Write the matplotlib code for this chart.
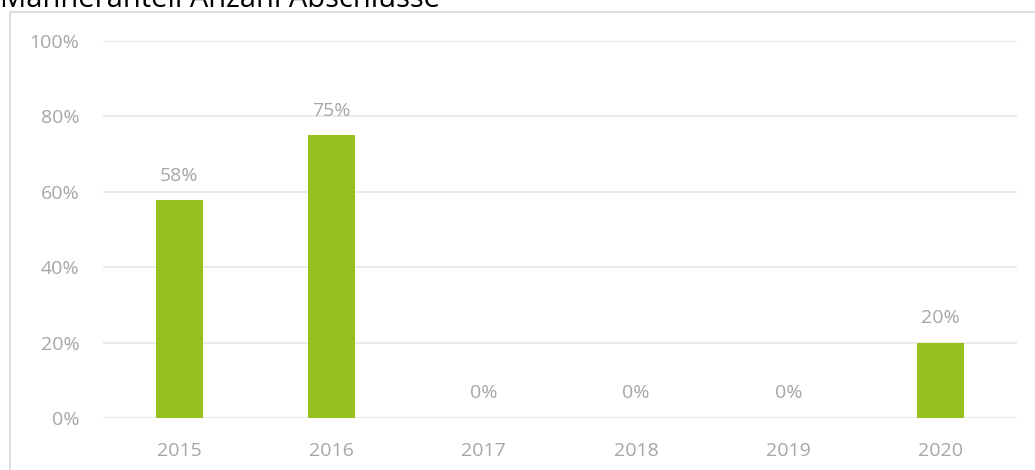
import matplotlib.pyplot as plt
from matplotlib.patches import Rectangle
from matplotlib.ticker import PercentFormatter

# Daten
years = ["2015", "2016", "2017", "2018", "2019", "2020"]
shares = [0.577, 0.75, 0.0, 0.0, 0.0, 0.20]
labels = ["58%", "75%", "0%", "0%", "0%", "20%"]

title = "Männeranteil Anzahl Abschlüsse"
green = "#95c11f"
grey = "#a6a6a6"
grid_col = "#e8e8e8"

plt.rcParams['font.family'] = ['Open Sans', 'DejaVu Sans']

fig = plt.figure(figsize=(10.35, 4.7), dpi=100)
ax = fig.add_axes([103 / 1035, 52 / 470, 914 / 1035, 377 / 470])

x = range(len(years))
ax.bar(x, shares, width=0.31, color=green, zorder=3)

for xi, v, lab in zip(x, shares, labels):
    ax.text(xi, v + 0.065, lab, ha="center", va="center", fontsize=14, color=grey)

ax.set_xlim(-0.5, len(years) - 0.5)
ax.set_ylim(0, 1)
ax.set_yticks([0, 0.2, 0.4, 0.6, 0.8, 1.0])
ax.yaxis.set_major_formatter(PercentFormatter(1.0, decimals=0))
ax.set_xticks(list(x))
ax.set_xticklabels(years)
ax.tick_params(axis="both", length=0, labelsize=14, colors=grey)
ax.tick_params(axis="y", pad=17)
ax.tick_params(axis="x", pad=17)
ax.grid(axis="y", color=grid_col, linewidth=1.3, zorder=0)
for s in ax.spines.values():
    s.set_visible(False)

# Rahmen um das Diagramm (rechts und unten abgeschnitten)
fig.patches.append(Rectangle((10 / 1035, -0.1), 1.2, (458 / 470) + 0.1,
                             transform=fig.transFigure, fill=False,
                             edgecolor="#d9d9d9", linewidth=1.2))

fig.text(0.0, 1 - 7 / 470, title, fontsize=21, color="black", ha="left", va="baseline")

fig.savefig("out.png", dpi=100)
